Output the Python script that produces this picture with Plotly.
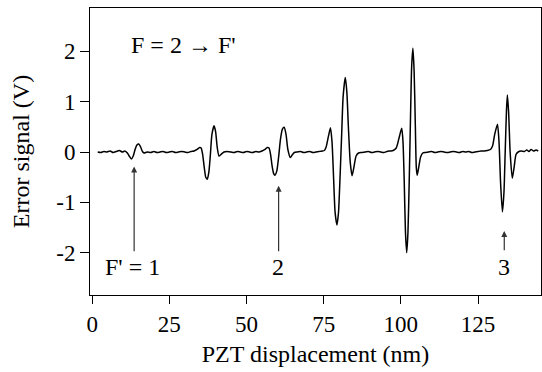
import plotly.graph_objects as go

# PZT displacement (nm) and error signal (V)
x_nm = [1.8, 2.8, 3.8, 4.8, 5.8, 6.8, 7.8, 8.8, 9.8, 10.6,
        11.4, 12.0, 12.7, 13.3, 13.9, 14.5, 15.1, 15.7, 16.3, 16.8,
        17.8, 19, 20, 21, 22, 23, 24, 25, 26, 27, 28, 29, 30, 31, 32, 33, 34, 34.8,
        35.3, 35.8, 36.3, 36.8, 37.3, 37.8, 38.3, 38.8, 39.5, 40.0, 40.5, 41.1, 41.7, 42.7,
        43.7, 45, 46, 47, 48, 49, 50, 51, 52, 53, 54, 55, 56, 56.7,
        57.3, 57.8, 58.3, 58.8, 59.2, 59.8, 60.4, 61.0, 61.6, 62.2, 62.8, 63.4, 64.2, 64.8, 65.5,
        66.5, 67.5, 68.5, 69.5, 70.5, 71.5, 72.5, 73.5, 74.5, 75.2,
        75.8, 76.5, 77.2, 77.7, 78.2, 78.7, 79.3, 79.8, 80.3, 80.8, 81.3, 82.0, 82.5, 83.0, 83.6, 84.2, 84.8, 85.5, 86.3,
        87.3, 88.5, 89.5, 90.5, 91.5, 92.5, 93.5, 94.5, 95.5, 96.5, 97.5,
        98.5, 99.3, 100.0, 100.3, 100.7, 101.1, 101.5, 101.9, 102.3, 102.7, 103.1, 103.5, 103.9, 104.3, 104.7, 105.0, 105.3, 105.8, 106.4, 107.1,
        108, 109, 110, 111, 112, 113, 114, 115, 116, 117, 118, 119, 120, 121, 122, 123, 124, 125, 126, 127, 128, 129, 129.7,
        130.4, 131.3, 131.8, 132.3, 132.9, 133.4, 133.8, 134.2, 134.5, 134.9, 135.4, 136.1, 136.7, 137.3, 138,
        139, 140, 140.8, 141.5, 142.2, 143, 143.8, 144.5]
err_v = [0.0, -0.01, 0.01, 0.0, 0.02, -0.01, 0.01, 0.03, 0.0, 0.02,
         -0.02, -0.08, -0.14, -0.08, 0.05, 0.14, 0.16, 0.1, 0.01, -0.02,
         0.0, -0.01, 0.01, -0.01, 0.0, 0.01, -0.01, 0.0, 0.01, -0.01, 0.0, 0.01, 0.0, -0.01, 0.01, 0.02, 0.05, 0.09,
         0.08, -0.05, -0.3, -0.5, -0.54, -0.4, -0.05, 0.35, 0.52, 0.4, 0.1, -0.08, -0.05, 0.0,
         0.01, 0.0, -0.01, 0.01, 0.0, -0.01, 0.01, 0.0, -0.01, 0.01, 0.0, 0.02, 0.05, 0.09,
         0.08, -0.05, -0.28, -0.43, -0.46, -0.38, -0.1, 0.25, 0.45, 0.49, 0.35, 0.05, -0.11, -0.06, -0.01,
         0.0, 0.01, -0.01, 0.0, 0.01, -0.01, 0.0, 0.01, 0.02, 0.03,
         0.1, 0.3, 0.48, 0.2, -0.5, -1.2, -1.45, -1.2, -0.5, 0.3, 1.1, 1.48, 1.2, 0.5, -0.2, -0.47, -0.3, -0.08, -0.02,
         -0.01, 0.0, 0.01, -0.01, 0.0, 0.01, 0.0, -0.01, 0.01, 0.02, 0.03,
         0.08, 0.25, 0.42, 0.47, 0.2, -0.6, -1.6, -2.0, -1.6, -0.6, 0.6, 1.7, 2.06, 1.6, 0.5, -0.3, -0.46, -0.3, -0.1, -0.02,
         -0.01, 0.0, 0.01, -0.01, 0.0, 0.01, 0.0, -0.01, 0.0, 0.01, 0.0, -0.01, 0.01, 0.0, 0.01, -0.01, 0.0, 0.01, 0.02, 0.02, 0.03, 0.05, 0.12,
         0.35, 0.55, 0.2, -0.6, -1.19, -0.8, 0.0, 0.8, 1.13, 0.8, 0.0, -0.52, -0.3, -0.05, 0.0,
         0.02, 0.01, 0.04, 0.01, 0.05, 0.02, 0.04, 0.02]

x_ticks = [0, 25, 50, 75, 100, 125]
x_tick_text = ["0", "25", "50", "75", "100", "125"]
y_ticks = [-2, -1, 0, 1, 2]
y_tick_text = ["-2", "-1", "0", "1", "2"]

# arrow annotations: (label, label x, arrow x, arrow tip y, arrow tail y)
arrow_labels = ["F' = 1", "2", "3"]
arrow_label_x = [13.1, 60.3, 133.5]
arrow_x = [13.6, 60.4, 133.5]
arrow_tip_y = [-0.29, -0.67, -1.57]
arrow_tail_y = [-2.0, -2.0, -1.98]
label_y = -2.29

FONT = "Liberation Serif"
FS = 24
FS_TICK = 23

fig = go.Figure()
fig.add_trace(go.Scatter(x=x_nm, y=err_v, mode="lines",
                         line=dict(color="black", width=1.5, shape="spline", smoothing=0.6),
                         showlegend=False, hoverinfo="skip"))

annotations = []
for lab, lx, axx, tip, tail in zip(arrow_labels, arrow_label_x, arrow_x, arrow_tip_y, arrow_tail_y):
    annotations.append(dict(x=axx, y=tip, ax=axx, ay=tail, xref="x", yref="y",
                            axref="x", ayref="y", text="", showarrow=True,
                            arrowhead=2, arrowsize=1.0, arrowwidth=1.2,
                            arrowcolor="#333333", standoff=0, startstandoff=0))
    annotations.append(dict(x=lx, y=label_y, xref="x", yref="y", text=lab,
                            showarrow=False, font=dict(family=FONT, size=FS, color="black"),
                            xanchor="center", yanchor="middle"))

annotations.append(dict(x=11.8, y=2.13, xref="x", yref="y", text="F = 2 \u2192 F'",
                        showarrow=False, font=dict(family=FONT, size=FS, color="black"),
                        xanchor="left", yanchor="middle"))

fig.update_layout(
    width=542, height=372,
    margin=dict(l=90, r=1, t=8, b=77),
    paper_bgcolor="white", plot_bgcolor="white",
    font=dict(family=FONT, size=FS, color="black"),
    annotations=annotations,
    xaxis=dict(range=[-0.7, 145.4], tickmode="array", tickvals=x_ticks, ticktext=x_tick_text,
               ticks="outside", ticklen=8,
               tickwidth=1, tickcolor="black", showline=True, linecolor="black",
               linewidth=1, mirror=True, showgrid=False, zeroline=False,
               title=dict(text="PZT displacement (nm)", standoff=9,
                          font=dict(family=FONT, size=FS)),
               tickfont=dict(family=FONT, size=FS_TICK)),
    yaxis=dict(range=[-2.84, 2.86], tickmode="array", tickvals=y_ticks, ticktext=y_tick_text,
               ticks="outside", ticklen=9,
               tickwidth=1, tickcolor="black", showline=True, linecolor="black",
               linewidth=1, mirror=True, showgrid=False, zeroline=False,
               title=dict(text="Error signal (V)", standoff=19,
                          font=dict(family=FONT, size=FS)),
               tickfont=dict(family=FONT, size=FS_TICK)),
)

fig.write_html("out.html")
